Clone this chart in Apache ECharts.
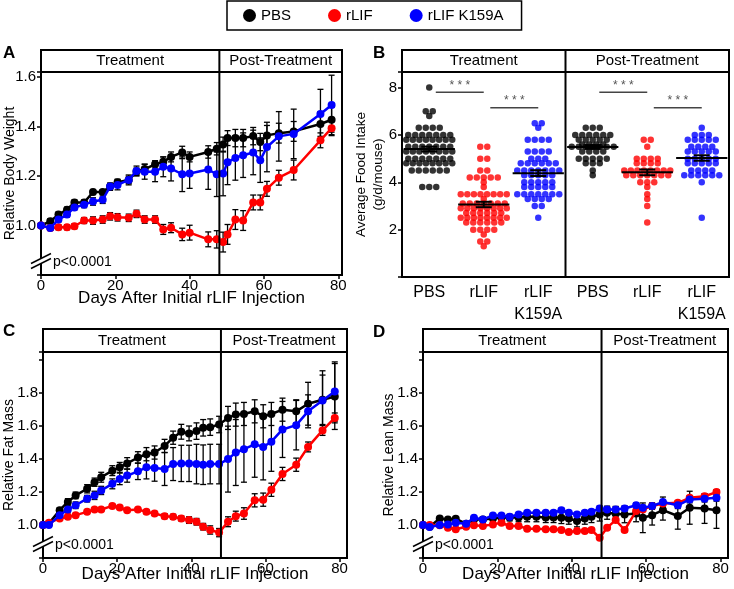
<!DOCTYPE html>
<html>
<head>
<meta charset="utf-8">
<script src="https://cdn.jsdelivr.net/npm/echarts@6/dist/echarts.min.js"></script>
<style>
  html, body { margin: 0; padding: 0; background: #fff; }
  #main { width: 734px; height: 589px; }
</style>
</head>
<body>
<div id="main"></div>
<script>
var FONT = 'Liberation Sans, Arial, sans-serif';
var seriesNames = ['PBS', 'rLIF', 'rLIF K159A'];
var seriesColors = ['#000000', '#ff0000', '#0000ff'];

// A - relative body weight
var daysA = [0, 2.5, 4.7, 7, 9, 11.6, 14, 16.6, 18.6, 20.6, 23.6, 25.7, 27.9, 30.7, 32.9, 35, 38, 40, 45, 47.3,
  49, 50.2, 52.3, 54.4, 57.1, 59, 60.8, 64, 68, 75.2, 78.2];
var pbsA = [1.0, 1.017, 1.044, 1.064, 1.093, 1.093, 1.135, 1.135, 1.157, 1.175, 1.184, 1.217, 1.228, 1.247, 1.257, 1.277, 1.295, 1.277, 1.297, 1.31,
  1.327, 1.353, 1.353, 1.353, 1.361, 1.337, 1.364, 1.373, 1.38, 1.41, 1.427];
var rlifA = [1.0, 0.99, 0.993, 0.993, 0.997, 1.02, 1.02, 1.024, 1.037, 1.033, 1.031, 1.047, 1.024, 1.024, 0.984, 0.991, 0.964, 0.971, 0.944, 0.944,
  0.933, 0.964, 1.024, 1.02, 1.093, 1.093, 1.148, 1.193, 1.224, 1.344, 1.393];
var k159aA = [1.0, 0.99, 1.024, 1.044, 1.073, 1.084, 1.097, 1.104, 1.157, 1.164, 1.184, 1.22, 1.217, 1.217, 1.237, 1.23, 1.207, 1.21, 1.226, 1.207,
  1.21, 1.255, 1.273, 1.284, 1.295, 1.264, 1.317, 1.36, 1.37, 1.45, 1.487];
var errPbsA = [0, 0.01, 0.01, 0.01, 0.01, 0.01, 0.01, 0.01, 0.012, 0.012, 0.015, 0.015, 0.02, 0.015, 0.02, 0.02, 0.025, 0.02, 0.025, 0.025,
  0.03, 0.03, 0.035, 0.035, 0.035, 0.035, 0.04, 0.04, 0.04, 0.05, 0.05];
var errRlifA = [0, 0.01, 0.01, 0.01, 0.01, 0.012, 0.015, 0.015, 0.015, 0.015, 0.015, 0.015, 0.015, 0.015, 0.02, 0.02, 0.025, 0.03, 0.03, 0.035,
  0.04, 0.04, 0.04, 0.04, 0.03, 0.03, 0.03, 0.03, 0.04, 0.03, 0.03];
var errK159aA = [0, 0.01, 0.01, 0.01, 0.01, 0.012, 0.015, 0.015, 0.015, 0.02, 0.02, 0.02, 0.03, 0.04, 0.04, 0.05, 0.07, 0.06, 0.08, 0.09,
  0.09, 0.09, 0.09, 0.09, 0.09, 0.09, 0.1, 0.1, 0.1, 0.1, 0.12];

// B - average food intake (g/d/mouse), treatment and post-treatment
var groupLabelsB = ['PBS', 'rLIF', 'rLIF\nK159A', 'PBS', 'rLIF', 'rLIF\nK159A'];
var pbsTreatB = [8.0, 7.0, 7.0, 6.8, 6.3, 6.3, 6.3, 6.3, 6.0, 6.0, 6.0, 6.0, 6.0, 6.0, 6.0,
  5.8, 5.8, 5.8, 5.8, 5.8, 5.8, 5.8, 5.8, 5.5, 5.5, 5.5, 5.5, 5.5, 5.5, 5.5,
  5.3, 5.3, 5.3, 5.3, 5.3, 5.3, 5.3, 5.3, 5.0, 5.0, 5.0, 5.0, 5.0, 5.0, 5.0,
  4.8, 4.8, 4.8, 4.8, 4.8, 4.8, 4.8, 4.8, 4.5, 4.5, 4.5, 4.5, 4.5, 4.5, 3.8, 3.8, 3.8];
var rlifTreatB = [5.5, 5.5, 5.0, 5.0, 4.5, 4.5, 4.2, 4.2, 4.2, 4.2, 4.2, 4.0, 3.8,
  3.5, 3.5, 3.5, 3.5, 3.5, 3.5, 3.5, 3.5, 3.3, 3.1, 3.1, 3.1, 3.1, 3.1, 3.1, 3.1,
  2.9, 2.9, 2.9, 2.9, 2.9, 2.9, 2.9, 2.9, 2.7, 2.7, 2.7, 2.7, 2.7, 2.7,
  2.5, 2.5, 2.5, 2.5, 2.5, 2.5, 2.5, 2.5, 2.3, 2.3, 2.3, 2.3, 2.3, 2.3,
  2.0, 2.0, 2.0, 2.0, 1.8, 1.5, 1.5, 1.3];
var k159aTreatB = [6.5, 6.5, 6.3, 5.8, 5.8, 5.8, 5.8, 5.3, 5.3, 5.3, 5.3, 5.0, 5.0, 5.0,
  4.8, 4.8, 4.8, 4.8, 4.8, 4.8, 4.5, 4.5, 4.5, 4.5, 4.5, 4.5, 4.5, 4.3, 4.3, 4.3, 4.3, 4.3,
  4.0, 4.0, 4.0, 4.0, 4.0, 3.8, 3.8, 3.8, 3.8, 3.8, 3.5, 3.5, 3.5, 3.5, 3.5, 3.5, 3.5,
  3.3, 3.3, 3.3, 3.3, 3.0, 3.0, 2.5];
var pbsPostB = [6.3, 6.3, 6.3, 6.0, 6.0, 6.0, 6.0, 6.0, 6.0, 5.8, 5.8, 5.8, 5.8, 5.8,
  5.6, 5.6, 5.6, 5.6, 5.5, 5.5, 5.5, 5.5, 5.5, 5.5, 5.5, 5.3, 5.3, 5.3, 5.3,
  5.0, 5.0, 5.0, 5.0, 5.0, 4.8, 4.8, 4.8, 4.5, 4.3];
var rlifPostB = [5.8, 5.8, 5.5, 5.0, 5.0, 5.0, 5.0, 4.8, 4.8, 4.8, 4.8,
  4.5, 4.5, 4.5, 4.5, 4.5, 4.5, 4.5, 4.5, 4.3, 4.3, 4.3, 4.3, 4.3, 4.3, 4.3,
  4.0, 4.0, 4.0, 3.8, 3.5, 3.3, 3.0, 2.3];
var k159aPostB = [6.3, 6.0, 6.0, 6.0, 5.8, 5.8, 5.8, 5.8, 5.8, 5.5, 5.5, 5.5, 5.5,
  5.3, 5.3, 5.3, 5.3, 5.3, 5.0, 5.0, 5.0, 5.0, 5.0, 4.8, 4.8, 4.8, 4.8, 4.8,
  4.5, 4.5, 4.5, 4.5, 4.3, 4.3, 4.3, 4.3, 4.3, 4.3, 4.0, 2.5];
var sigB = [[0, 1, 7.8], [1, 2, 7.15], [3, 4, 7.8], [4, 5, 7.15]];

// C - relative fat mass
var daysC = [0, 1.6, 4.5, 6.7, 8.8, 11.9, 13.9, 15.7, 18.7, 20.7, 22.7, 25.6, 27.9, 30.1, 32.8, 35.1, 37.3, 39.4, 41.4, 43.2, 45.1, 47.5,
  49.9, 52, 54.2, 57.1, 59.4, 61.6, 64.6, 68.3, 71.5, 75.4, 78.7];
var pbsC = [1.0, 1.01, 1.09, 1.14, 1.18, 1.22, 1.26, 1.29, 1.33, 1.35, 1.374, 1.41, 1.43, 1.44, 1.48, 1.53, 1.566, 1.556, 1.57, 1.59, 1.594, 1.61,
  1.65, 1.67, 1.674, 1.69, 1.66, 1.674, 1.7, 1.69, 1.736, 1.76, 1.78];
var rlifC = [1.0, 1.014, 1.04, 1.05, 1.06, 1.08, 1.094, 1.094, 1.116, 1.106, 1.09, 1.094, 1.08, 1.07, 1.054, 1.05, 1.04, 1.03, 1.02, 0.99, 0.97, 0.954,
  1.02, 1.054, 1.07, 1.15, 1.154, 1.214, 1.31, 1.366, 1.474, 1.574, 1.65];
var k159aC = [1.0, 1.0, 1.06, 1.094, 1.12, 1.16, 1.18, 1.21, 1.25, 1.28, 1.3, 1.326, 1.35, 1.346, 1.34, 1.37, 1.374, 1.374, 1.37, 1.366, 1.37, 1.37,
  1.4, 1.44, 1.46, 1.49, 1.474, 1.506, 1.58, 1.606, 1.69, 1.756, 1.81];
var errPbsC = [0, 0.01, 0.015, 0.02, 0.02, 0.025, 0.025, 0.03, 0.03, 0.03, 0.035, 0.035, 0.04, 0.04, 0.04, 0.04, 0.045, 0.045, 0.05, 0.05, 0.05, 0.05,
  0.07, 0.07, 0.07, 0.07, 0.07, 0.07, 0.07, 0.07, 0.13, 0.15, 0.2];
var errRlifC = [0, 0.01, 0.01, 0.01, 0.01, 0.01, 0.01, 0.01, 0.01, 0.01, 0.01, 0.01, 0.012, 0.012, 0.015, 0.015, 0.015, 0.02, 0.02, 0.02, 0.025, 0.025,
  0.03, 0.03, 0.035, 0.04, 0.04, 0.04, 0.04, 0.04, 0.03, 0.03, 0.03];
var errK159aC = [0, 0.01, 0.015, 0.02, 0.02, 0.02, 0.025, 0.025, 0.03, 0.035, 0.04, 0.05, 0.07, 0.08, 0.1, 0.1, 0.11, 0.11, 0.12, 0.12, 0.12, 0.12,
  0.2, 0.2, 0.2, 0.2, 0.2, 0.18, 0.17, 0.15, 0.1, 0.18, 0.18];

// D - relative lean mass
var daysD = [0, 1.8, 4.5, 6.7, 8.8, 11.6, 13.7, 16.1, 18.8, 21.1, 23.3, 25.7, 28, 30.5, 33, 35.1, 37.2, 39.2, 41.4, 43.5, 45.3, 47.5,
  49.5, 51.8, 54.2, 57.3, 59.1, 61.6, 64.5, 68.5, 71.7, 75.7, 78.9];
var pbsD = [1.0, 0.99, 1.04, 1.034, 1.038, 1.008, 1.034, 1.034, 1.04, 1.045, 1.045, 1.045, 1.05, 1.05, 1.045, 1.045, 1.044, 1.04, 1.024, 1.04, 1.05, 1.064,
  1.075, 1.068, 1.064, 1.07, 1.044, 1.06, 1.09, 1.055, 1.105, 1.1, 1.09];
var rlifD = [1.0, 1.0, 0.998, 0.984, 0.974, 0.99, 0.998, 0.994, 1.004, 1.014, 0.994, 0.994, 0.978, 0.978, 0.974, 0.974, 0.97, 0.958, 0.964, 0.964, 0.97, 0.923,
  0.984, 1.03, 0.97, 1.085, 1.095, 1.115, 1.131, 1.135, 1.165, 1.175, 1.2];
var k159aD = [1.0, 0.988, 1.0, 1.004, 1.014, 1.008, 1.044, 1.034, 1.058, 1.058, 1.05, 1.064, 1.075, 1.075, 1.075, 1.075, 1.09, 1.075, 1.064, 1.075, 1.08, 1.1,
  1.095, 1.095, 1.1, 1.12, 1.105, 1.115, 1.14, 1.12, 1.155, 1.16, 1.165];
var errPbsD = [0, 0.01, 0.01, 0.01, 0.01, 0.01, 0.015, 0.015, 0.02, 0.02, 0.02, 0.025, 0.03, 0.03, 0.03, 0.03, 0.035, 0.035, 0.035, 0.035, 0.035, 0.04,
  0.04, 0.045, 0.05, 0.05, 0.09, 0.06, 0.06, 0.08, 0.1, 0.09, 0.11];
var errRlifD = [0, 0.005, 0.005, 0.005, 0.005, 0.005, 0.005, 0.005, 0.005, 0.005, 0.005, 0.005, 0.008, 0.008, 0.008, 0.008, 0.008, 0.008, 0.008, 0.008, 0.01, 0.01,
  0.01, 0.01, 0.01, 0.012, 0.012, 0.012, 0.012, 0.012, 0.012, 0.012, 0.015];
var errK159aD = [0, 0.005, 0.005, 0.005, 0.005, 0.005, 0.008, 0.008, 0.008, 0.01, 0.01, 0.01, 0.01, 0.01, 0.01, 0.01, 0.012, 0.012, 0.012, 0.012, 0.012, 0.015,
  0.015, 0.015, 0.015, 0.015, 0.015, 0.02, 0.03, 0.02, 0.02, 0.02, 0.02];

// layout
var grids = [
  { left: 41, top: 72, width: 301, height: 203 },
  { left: 402, top: 72, width: 327, height: 205 },
  { left: 43, top: 352, width: 304, height: 206 },
  { left: 423, top: 352, width: 305, height: 206 }
];
var headTops = [50, 50, 329, 329];
var panelLetters = ['A', 'B', 'C', 'D'];
var letterPos = [[3, 45], [373, 45], [3, 323], [373, 324]];
var dividerAt = [48, 3, 48, 48];
var pxPerUnitB = grids[1].width / 6;

function zip3(xs, ys, es) {
  return xs.map(function (x, i) { return [x, ys[i], es ? es[i] : 0]; });
}

function swarm(values, center) {
  var rows = {}, keys = [];
  values.forEach(function (v) {
    var k = v.toFixed(2);
    if (!rows[k]) { rows[k] = []; keys.push(k); }
    rows[k].push(v);
  });
  var pts = [];
  keys.forEach(function (k) {
    var row = rows[k], n = row.length;
    var s = n > 1 ? Math.min(7, 46 / (n - 1)) : 0;
    row.forEach(function (v, i) {
      pts.push([center + (i - (n - 1) / 2) * s / pxPerUnitB, v]);
    });
  });
  return pts;
}

function meanSem(values) {
  var n = values.length, m = 0, ss = 0;
  values.forEach(function (v) { m += v; });
  m = m / n;
  values.forEach(function (v) { ss += (v - m) * (v - m); });
  return [m, Math.sqrt(ss / (n - 1)) / Math.sqrt(n)];
}

function renderErr(params, api) {
  var e = api.value(2);
  if (!e) return { type: 'group', children: [] };
  var x = api.value(0), y = api.value(1);
  var top = api.coord([x, y + e]), bot = api.coord([x, y - e]);
  var c = 3;
  var st = { stroke: '#000', lineWidth: 1.3 };
  return {
    type: 'group', children: [
      { type: 'line', shape: { x1: top[0], y1: top[1], x2: bot[0], y2: bot[1] }, style: st },
      { type: 'line', shape: { x1: top[0] - c, y1: top[1], x2: top[0] + c, y2: top[1] }, style: st },
      { type: 'line', shape: { x1: bot[0] - c, y1: bot[1], x2: bot[0] + c, y2: bot[1] }, style: st }
    ]
  };
}

function renderMean(params, api) {
  var x = api.value(0), m = api.value(1), s = api.value(2);
  var l = api.coord([x - 0.47, m]), r = api.coord([x + 0.47, m]);
  var t = api.coord([x, m + s]), b = api.coord([x, m - s]);
  var c = 8;
  var st = { stroke: '#000', lineWidth: 2 };
  return {
    type: 'group', children: [
      { type: 'line', shape: { x1: l[0], y1: l[1], x2: r[0], y2: r[1] }, style: st },
      { type: 'line', shape: { x1: t[0], y1: t[1], x2: b[0], y2: b[1] }, style: st },
      { type: 'line', shape: { x1: t[0] - c, y1: t[1], x2: t[0] + c, y2: t[1] }, style: st },
      { type: 'line', shape: { x1: b[0] - c, y1: b[1], x2: b[0] + c, y2: b[1] }, style: st }
    ]
  };
}

function renderSig(params, api) {
  var a = api.coord([api.value(0), api.value(2)]);
  var b = api.coord([api.value(1), api.value(2)]);
  return {
    type: 'group', children: [
      { type: 'line', shape: { x1: a[0], y1: a[1], x2: b[0], y2: b[1] }, style: { stroke: '#444', lineWidth: 1.5 } },
      {
        type: 'text', x: (a[0] + b[0]) / 2, y: a[1] - 1,
        style: { text: '* * *', fill: '#555', fontSize: 12, fontFamily: FONT, align: 'center', verticalAlign: 'bottom' }
      }
    ]
  };
}

function tickFmt(lo, hi) {
  return function (v) {
    if (v < lo - 1e-6 || v > hi + 1e-6) return '';
    if (Math.abs(v * 5 - Math.round(v * 5)) > 1e-6) return '';
    return v.toFixed(1);
  };
}

function valueXAxis(gi, max, gap) {
  return {
    type: 'value', gridIndex: gi, min: 0, max: max, interval: 20,
    axisLine: { lineStyle: { color: '#000', width: 2 } },
    axisTick: { length: 4, lineStyle: { color: '#000', width: 1.5 } },
    axisLabel: {
      color: '#000', fontSize: 15, fontFamily: FONT, margin: 3, showMaxLabel: false,
      formatter: function (v) { return v % 20 === 0 ? String(v) : ''; }
    },
    splitLine: { show: false },
    name: 'Days After Initial rLIF Injection', nameLocation: 'middle', nameGap: gap, nameMoveOverlap: false,
    nameTextStyle: { color: '#000', fontSize: 17, fontFamily: FONT }
  };
}

function valueYAxis(gi, min, max, lo, hi, name, gap) {
  return {
    type: 'value', gridIndex: gi, min: min, max: max, interval: 0.2,
    axisLine: { lineStyle: { color: '#000', width: 2 } },
    axisTick: { length: 4, lineStyle: { color: '#000', width: 1.5 } },
    axisLabel: { color: '#000', fontSize: 15, fontFamily: FONT, margin: 5, formatter: tickFmt(lo, hi) },
    splitLine: { show: false },
    name: name, nameLocation: 'middle', nameGap: gap, nameMoveOverlap: false,
    nameTextStyle: { color: '#000', fontSize: 14, fontFamily: FONT }
  };
}

var linePanels = [
  { gi: 0, days: daysA, ys: [pbsA, rlifA, k159aA], errs: [errPbsA, errRlifA, errK159aA] },
  { gi: 2, days: daysC, ys: [pbsC, rlifC, k159aC], errs: [errPbsC, errRlifC, errK159aC] },
  { gi: 3, days: daysD, ys: [pbsD, rlifD, k159aD], errs: [errPbsD, errRlifD, errK159aD] }
];

var series = [];
linePanels.forEach(function (p) {
  var errData = [];
  p.ys.forEach(function (ys, k) { errData = errData.concat(zip3(p.days, ys, p.errs[k])); });
  series.push({
    type: 'custom', name: 'err' + p.gi, xAxisIndex: p.gi, yAxisIndex: p.gi,
    renderItem: renderErr, data: errData, encode: { x: 0, y: 1 }, z: 1, silent: true
  });
  p.ys.forEach(function (ys, k) {
    series.push({
      type: 'line', name: seriesNames[k], xAxisIndex: p.gi, yAxisIndex: p.gi,
      data: zip3(p.days, ys).map(function (d) { return [d[0], d[1]]; }),
      symbol: 'circle', symbolSize: 8, showSymbol: true,
      itemStyle: { color: seriesColors[k] },
      lineStyle: { color: seriesColors[k], width: 2.5 },
      z: 2 + k
    });
  });
});

var groupsB = [pbsTreatB, rlifTreatB, k159aTreatB, pbsPostB, rlifPostB, k159aPostB];
seriesNames.forEach(function (name, k) {
  var pts = swarm(groupsB[k], k + 0.5).concat(swarm(groupsB[k + 3], k + 3.5));
  series.push({
    type: 'scatter', name: name, xAxisIndex: 1, yAxisIndex: 1, data: pts,
    symbol: 'circle', symbolSize: 6.5, itemStyle: { color: seriesColors[k] }, z: 2
  });
});
series.push({
  type: 'custom', name: 'meanB', xAxisIndex: 1, yAxisIndex: 1, renderItem: renderMean,
  data: groupsB.map(function (g, i) { var ms = meanSem(g); return [i + 0.5, ms[0], ms[1]]; }),
  encode: { x: 0, y: 1 }, z: 5, silent: true
});
series.push({
  type: 'custom', name: 'sigB', xAxisIndex: 1, yAxisIndex: 1, renderItem: renderSig,
  data: sigB.map(function (s) { return [s[0] + 0.62, s[1] + 0.5, s[2]]; }),
  encode: { x: [0, 1], y: 2 }, z: 5, silent: true
});

var chart = echarts.init(document.getElementById('main'), null, { renderer: 'canvas' });

chart.setOption({
  animation: false,
  backgroundColor: '#fff',
  textStyle: { fontFamily: FONT },
  legend: {
    data: seriesNames, left: 227, top: 1, padding: [7, 18, 7, 16], itemGap: 37,
    icon: 'circle', itemWidth: 13, itemHeight: 13, selectedMode: false,
    borderColor: '#000', borderWidth: 1.5,
    textStyle: { color: '#000', fontSize: 15, fontFamily: FONT }
  },
  grid: grids.map(function (g) {
    return {
      left: g.left, top: g.top, width: g.width, height: g.height, containLabel: false, outerBoundsMode: 'none',
      show: true, borderColor: '#000', borderWidth: 2, backgroundColor: 'transparent'
    };
  }),
  xAxis: [
    valueXAxis(0, 81, 15),
    {
      type: 'value', gridIndex: 1, min: 0, max: 6, interval: 0.5,
      axisLine: { lineStyle: { color: '#000', width: 2 } },
      axisTick: { show: false },
      axisLabel: {
        color: '#000', fontSize: 16, fontFamily: FONT, margin: 5, lineHeight: 22,
        showMinLabel: false, showMaxLabel: false,
        formatter: function (v) {
          var i = Math.floor(v);
          return Math.abs(v - i - 0.5) < 1e-6 ? groupLabelsB[i] : '';
        }
      },
      splitLine: { show: false }
    },
    valueXAxis(2, 82, 8),
    valueXAxis(3, 82, 8)
  ],
  yAxis: [
    valueYAxis(0, 0.8, 1.62, 1.0, 1.6, 'Relative Body Weight', 24),
    {
      type: 'value', gridIndex: 1, min: 0, max: 8.66, interval: 2,
      axisLine: { lineStyle: { color: '#000', width: 2 } },
      axisTick: { length: 4, lineStyle: { color: '#000', width: 1.5 } },
      axisLabel: {
        color: '#000', fontSize: 15, fontFamily: FONT, margin: 5,
        formatter: function (v) { return (v > 0 && v <= 8 && v % 2 === 0) ? String(v) : ''; }
      },
      splitLine: { show: false },
      name: 'Average Food Intake\n(g/d/mouse)', nameLocation: 'middle', nameGap: 15, nameMoveOverlap: false,
      nameTextStyle: { color: '#000', fontSize: 13.5, fontFamily: FONT, lineHeight: 17 }
    },
    valueYAxis(2, 0.8, 2.05, 1.0, 1.8, 'Relative Fat Mass', 27),
    valueYAxis(3, 0.8, 2.05, 1.0, 1.8, 'Relative Lean Mass', 27)
  ],
  series: series
});

// header boxes, divider lines, axis breaks and annotations
var gfx = [];
grids.forEach(function (g, i) {
  var head = headTops[i];
  var bottom = g.top + g.height;
  var dx = chart.convertToPixel({ xAxisIndex: i }, dividerAt[i]);
  var right = g.left + g.width;
  var midY = (head + g.top) / 2;
  gfx.push({
    type: 'rect', z: 100, shape: { x: g.left, y: head, width: g.width, height: g.top - head },
    style: { fill: 'none', stroke: '#000', lineWidth: 2 }
  });
  gfx.push({
    type: 'line', z: 100, shape: { x1: dx, y1: head, x2: dx, y2: bottom },
    style: { stroke: '#000', lineWidth: 2 }
  });
  gfx.push({
    type: 'text', z: 100, x: (g.left + dx) / 2, y: midY,
    style: { text: 'Treatment', fill: '#000', fontSize: 15, fontFamily: FONT, align: 'center', verticalAlign: 'middle', textAlign: 'center', textVerticalAlign: 'middle' }
  });
  gfx.push({
    type: 'text', z: 100, x: (dx + right) / 2, y: midY,
    style: { text: 'Post-Treatment', fill: '#000', fontSize: 15, fontFamily: FONT, align: 'center', verticalAlign: 'middle', textAlign: 'center', textVerticalAlign: 'middle' }
  });
  gfx.push({
    type: 'text', z: 100, x: letterPos[i][0], y: letterPos[i][1],
    style: { text: panelLetters[i], fill: '#000', fontSize: 17, fontWeight: 'bold', fontFamily: FONT, verticalAlign: 'top', textVerticalAlign: 'top' }
  });
  if (i !== 1) {
    var bx = g.left, by = bottom - 14;
    gfx.push({
      type: 'line', z: 101, shape: { x1: bx - 10, y1: by + 5, x2: bx + 10, y2: by - 5 },
      style: { stroke: '#fff', lineWidth: 5 }
    });
    gfx.push({
      type: 'line', z: 102, shape: { x1: bx - 10, y1: by + 2.5, x2: bx + 10, y2: by - 7.5 },
      style: { stroke: '#000', lineWidth: 1.5 }
    });
    gfx.push({
      type: 'line', z: 102, shape: { x1: bx - 10, y1: by + 7.5, x2: bx + 10, y2: by - 2.5 },
      style: { stroke: '#000', lineWidth: 1.5 }
    });
    gfx.push({
      type: 'text', z: 100, x: g.left + 12, y: bottom - 13,
      style: { text: 'p<0.0001', fill: '#000', fontSize: 14, fontFamily: FONT, verticalAlign: 'middle', textVerticalAlign: 'middle' }
    });
  }
});
chart.setOption({ graphic: gfx });
</script>
</body>
</html>
